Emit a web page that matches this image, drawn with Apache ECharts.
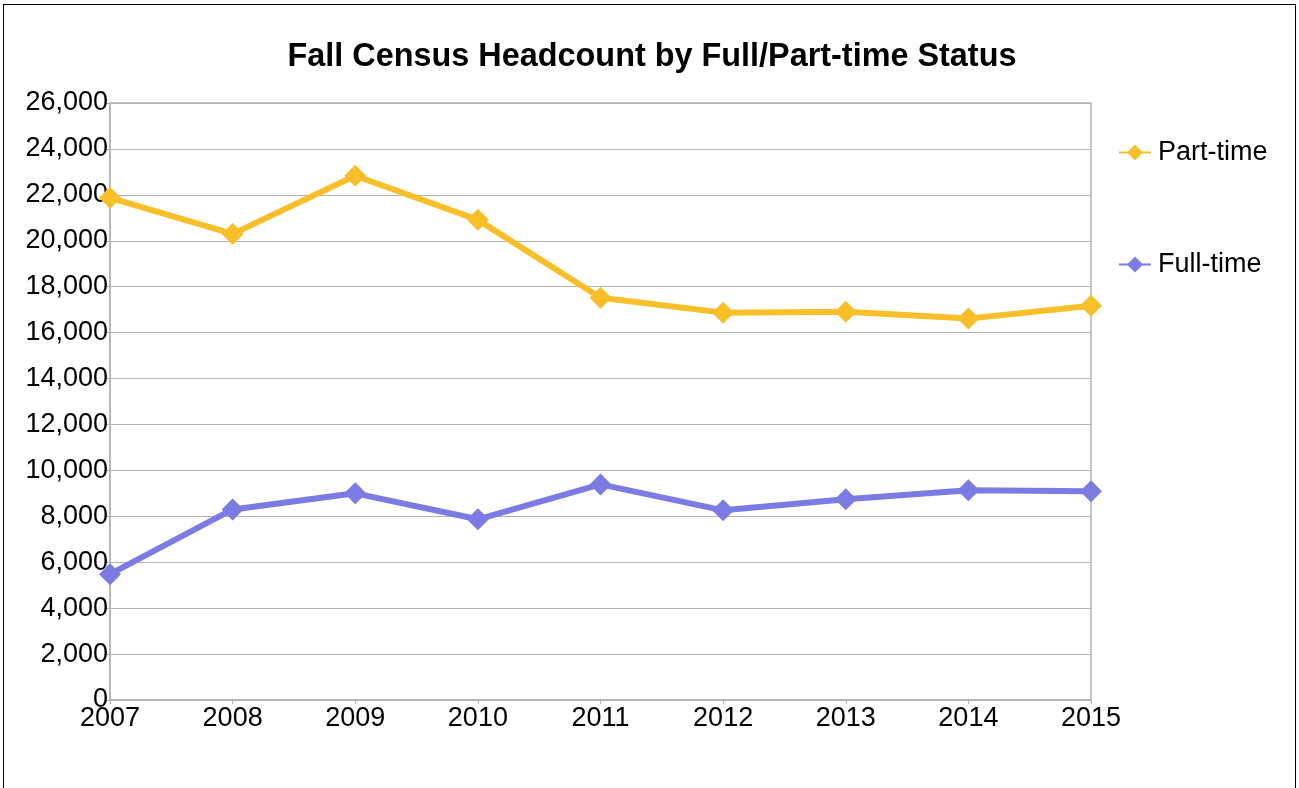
<!DOCTYPE html>
<html>
<head>
<meta charset="utf-8">
<script src="https://cdn.jsdelivr.net/npm/echarts@6/dist/echarts.min.js"></script>
<style>
  html, body { margin: 0; padding: 0; background: #fff; }
  #frame { position: absolute; left: 3px; top: 4px; width: 1293px; height: 800px; border: 1.5px solid #000; box-sizing: border-box; }
  #chart { position: absolute; left: 0; top: 0; width: 1299px; height: 788px; }
</style>
</head>
<body>
<div id="frame"></div>
<div id="chart"></div>
<script>
var years = ['2007', '2008', '2009', '2010', '2011', '2012', '2013', '2014', '2015'];
var partTime = [21870, 20300, 22830, 20910, 17520, 16870, 16910, 16610, 17170];
var fullTime = [5480, 8300, 9000, 7870, 9390, 8260, 8740, 9130, 9090];

var font = 'Liberation Sans, Arial, sans-serif';

var chart = echarts.init(document.getElementById('chart'));
chart.setOption({
    animation: false,
    title: {
        text: 'Fall Census Headcount by Full/Part-time Status',
        left: 647,
        textAlign: 'center',
        top: 36,
        textStyle: { fontFamily: font, fontSize: 32.4, fontWeight: 'bold', color: '#000' }
    },
    legend: {
        orient: 'vertical',
        left: 1113,
        top: 134,
        itemGap: 85,
        itemWidth: 32,
        itemHeight: 20,
        data: ['Part-time', 'Full-time'],
        textStyle: { fontFamily: font, fontSize: 27, color: '#000', padding: [0, 0, 0, 2] }
    },
    grid: {
        left: 110, top: 103, width: 981, height: 597,
        show: true, borderColor: '#b3b3b3', borderWidth: 1.5
    },
    xAxis: {
        type: 'category',
        data: years,
        boundaryGap: false,
        axisLine: { lineStyle: { color: '#b3b3b3', width: 1.5 } },
        axisTick: { show: true, length: 4, lineStyle: { color: '#b3b3b3' } },
        axisLabel: { fontFamily: font, fontSize: 27, color: '#000', margin: 5 }
    },
    yAxis: {
        type: 'value',
        min: 0, max: 26000, interval: 2000,
        axisLine: { show: true, lineStyle: { color: '#b3b3b3', width: 1.5 } },
        axisTick: { show: true, length: 4, lineStyle: { color: '#b3b3b3' } },
        splitLine: { lineStyle: { color: '#b3b3b3', width: 1.2 } },
        axisLabel: {
            fontFamily: font, fontSize: 27, color: '#000', margin: 2,
            formatter: function (v) { return v.toLocaleString('en-US'); }
        }
    },
    series: [
        {
            name: 'Part-time', type: 'line', data: partTime,
            symbol: 'diamond', symbolSize: 22,
            itemStyle: { color: '#f8bf28' },
            lineStyle: { width: 6, color: '#f8bf28' }
        },
        {
            name: 'Full-time', type: 'line', data: fullTime,
            symbol: 'diamond', symbolSize: 22,
            itemStyle: { color: '#7b7be3' },
            lineStyle: { width: 6, color: '#7b7be3' }
        }
    ]
});
</script>
</body>
</html>
